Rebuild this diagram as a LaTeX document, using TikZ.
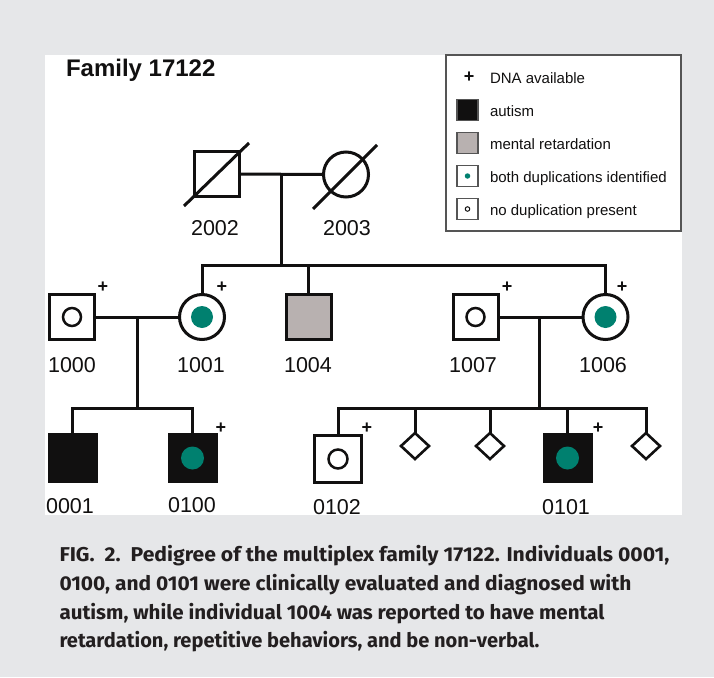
\documentclass[tikz,border=0pt]{standalone}
\usepackage{fontspec}
\setmainfont{Liberation Sans}
\newfontfamily\capfont{Fira Sans}
\usetikzlibrary{shapes.geometric}
\definecolor{bg}{HTML}{E6E7E9}
\definecolor{ink}{HTML}{111010}
\definecolor{dupteal}{HTML}{00806F}
\definecolor{mrgray}{HTML}{B8B1B0}
\definecolor{legbord}{HTML}{555555}
\definecolor{capink}{HTML}{231F20}
\begin{document}
\begin{tikzpicture}[x=1pt,y=-1pt,
  every node/.style={inner sep=0pt, outer sep=0pt},
  male/.style={rectangle, draw=ink, line width=3pt, minimum size=45pt, fill=white},
  female/.style={circle, draw=ink, line width=3pt, minimum size=45pt, fill=white},
  unk/.style={diamond, draw=ink, line width=2.6pt, minimum width=28pt, minimum height=26pt, fill=white},
  dupdot/.style={circle, fill=dupteal, minimum size=22pt},
  nodupring/.style={circle, draw=ink, line width=2.5pt, minimum size=18pt},
  lbl/.style={font=\fontsize{21.5}{24}\selectfont, text=ink},
  dna/.style={font=\bfseries\fontsize{18}{18}\selectfont, text=ink},
  link/.style={draw=ink, line width=3pt},
  legsq/.style={rectangle, draw=legbord, line width=1.3pt, minimum size=21pt},
  legtxt/.style={anchor=base west, font=\fontsize{15}{17}\selectfont, text=ink},
  capline/.style={anchor=base west, text=capink, font=\capfont\bfseries\fontsize{20}{24}\selectfont}
]
\useasboundingbox (0,0) rectangle (714,677);
\fill[bg] (0,0) rectangle (714,677);
\fill[white] (45,55) rectangle (682,515);

% title
\node[anchor=base west, font=\bfseries\fontsize{24}{28}\selectfont, text=ink] (title) at (66,77) {Family 17122};

% legend
\node[draw=legbord, line width=1.3pt, rectangle, minimum width=235pt, minimum height=176pt, anchor=north west] (legend) at (446,55) {};
\node[dna] (lplus) at (469,77) {+};
\node[legtxt] (ltxt1) at (490,83) {DNA available};
\node[legsq, fill=ink] (lsq2) at (467.5,110) {};
\node[legtxt] (ltxt2) at (490,116) {autism};
\node[legsq, fill=mrgray] (lsq3) at (467.5,143) {};
\node[legtxt] (ltxt3) at (490,149) {mental retardation};
\node[legsq, fill=white] (lsq4) at (467.5,176) {};
\node[circle, fill=dupteal, minimum size=5.5pt] (ldot4) at (lsq4.center) {};
\node[legtxt] (ltxt4) at (490,182) {both duplications identified};
\node[legsq, fill=white] (lsq5) at (467.5,209) {};
\node[circle, draw=ink, line width=1pt, minimum size=4.5pt] (lring5) at (lsq5.center) {};
\node[legtxt] (ltxt5) at (490,215) {no duplication present};

% generation I
\node[male] (p2002) at (216.5,174) {};
\node[female] (p2003) at (346,174.5) {};
\draw[link] (p2002.center) ++(-32.5,32) -- ++(65,-63);
\draw[link] (p2003.center) ++(-33,34.5) -- ++(64,-64);
\node[lbl] (t2002) at (215,228) {2002};
\node[lbl] (t2003) at (347,228) {2003};

% generation II
\node[male] (p1000) at (72,317) {};
\node[nodupring] (r1000) at (p1000.center) {};
\node[female] (p1001) at (202,317) {};
\node[dupdot] (d1001) at (p1001.center) {};
\node[male, fill=mrgray] (p1004) at (308.5,317) {};
\node[male] (p1007) at (475.5,317) {};
\node[nodupring] (r1007) at (p1007.center) {};
\node[female] (p1006) at (605.5,317) {};
\node[dupdot] (d1006) at (p1006.center) {};
\node[lbl] (t1000) at (72,365) {1000};
\node[lbl] (t1001) at (201,365) {1001};
\node[lbl] (t1004) at (308,365) {1004};
\node[lbl] (t1007) at (473,365) {1007};
\node[lbl] (t1006) at (603,365) {1006};
\node[dna] (s1000) at (103,287) {+};
\node[dna] (s1001) at (222,287) {+};
\node[dna] (s1007) at (507,287) {+};
\node[dna] (s1006) at (622,287) {+};

% generation III
\node[male, fill=ink, minimum size=47pt] (p0001) at (72.5,458) {};
\node[male, fill=ink, minimum size=47pt] (p0100) at (192.5,458) {};
\node[dupdot, minimum size=23pt] (d0100) at (p0100.center) {};
\node[male, minimum size=47pt] (p0102) at (338,459) {};
\node[nodupring, minimum size=19pt] (r0102) at (p0102.center) {};
\node[unk] (u1) at (415,446) {};
\node[unk] (u2) at (490,446) {};
\node[male, fill=ink, minimum size=47pt] (p0101) at (567.5,458) {};
\node[dupdot, minimum size=23pt] (d0101) at (p0101.center) {};
\node[unk] (u3) at (646,446) {};
\node[lbl] (t0001) at (70,506) {0001};
\node[lbl] (t0100) at (192,505) {0100};
\node[lbl] (t0102) at (337,507) {0102};
\node[lbl] (t0101) at (566,507) {0101};
\node[dna] (s0100) at (221,428) {+};
\node[dna] (s0102) at (367,428) {+};
\node[dna] (s0101) at (598,428) {+};

% connectors generation I -> II
\coordinate (m1) at (281,174);
\coordinate (sib1) at (281,265);
\draw[link] (p2002.east) -- (p2003.west);
\draw[link] (m1) -- (sib1);
\draw[link] (p1001.north) |- (sib1) -| (p1006.north);
\draw[link] (p1004.north) -- (p1004.north |- sib1);

% connectors II -> III left
\coordinate (m2) at (137,317);
\coordinate (sib2) at (137,408);
\draw[link] (p1000.east) -- (p1001.west);
\draw[link] (m2) -- (sib2);
\draw[link] (p0001.north) |- (sib2) -| (p0100.north);

% connectors II -> III right
\coordinate (m3) at (539.5,317);
\coordinate (sib3) at (539.5,408);
\draw[link] (p1007.east) -- (p1006.west);
\draw[link] (m3) -- (sib3);
\draw[link] (p0102.north) |- (sib3) -| (u3.north);
\draw[link] (u1.north) -- (u1.north |- sib3);
\draw[link] (u2.north) -- (u2.north |- sib3);
\draw[link] (p0101.north) -- (p0101.north |- sib3);

% caption
\node[capline] (cap1) at (59.5,561.5) {\resizebox{610pt}{\height}{FIG.\ \ 2.\ \ Pedigree of the multiplex family 17122. Individuals 0001,}};
\node[capline] (cap2) at (59.5,590.5) {\resizebox{572pt}{\height}{0100, and 0101 were clinically evaluated and diagnosed with}};
\node[capline] (cap3) at (59.5,619) {\resizebox{545pt}{\height}{autism, while individual 1004 was reported to have mental}};
\node[capline] (cap4) at (59.5,647.5) {\resizebox{480pt}{\height}{retardation, repetitive behaviors, and be non-verbal.}};
\end{tikzpicture}
\end{document}
